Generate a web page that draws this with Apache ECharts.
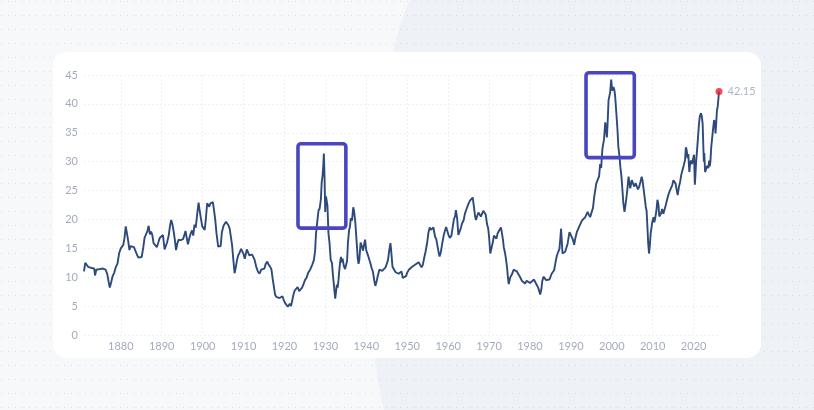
<!DOCTYPE html>
<html><head><meta charset="utf-8">
<script src="https://cdn.jsdelivr.net/npm/echarts@6/dist/echarts.min.js"></script>
<style>
html,body{margin:0;padding:0;background:#f7f8fa;}
#wrap{position:relative;width:814px;height:410px;overflow:hidden;background:#f7f8fa;}
#bgsvg{position:absolute;left:0;top:0;}
#card{position:absolute;left:53px;top:52px;width:708px;height:306px;background:#ffffff;border-radius:14px;}
#chart{position:absolute;left:0;top:0;width:814px;height:410px;}
</style></head>
<body><div id="wrap">
<svg id="bgsvg" width="814" height="410">
 <defs><pattern id="dots" width="7" height="14" patternUnits="userSpaceOnUse"><circle cx="1.5" cy="1.5" r="0.6" fill="#b9c2d2"/></pattern></defs>
 <path d="M410 0 C 376 70, 354 290, 384 410 L 814 410 L 814 0 Z" fill="#eef1f6"/>
 <rect width="814" height="410" fill="url(#dots)" opacity="0.55"/>
</svg>
<div id="card"></div>
<div id="chart"></div>
</div>
<script>
// ---- data (Shiller CAPE) ----
const years = [
1871.0,1871.3,1871.6,1872.0,1872.4,1872.8,1873.2,1873.5,1873.7,1874.0,1874.4,1874.8,1875.2,1875.6,1876.0,1876.3,1876.7,1877.0,1877.3,1877.6,
1878.0,1878.4,1878.8,1879.2,1879.6,1880.0,1880.3,1880.6,1880.9,1881.2,1881.5,1881.8,1882.1,1882.4,1882.8,1883.2,1883.6,1884.0,1884.3,1884.7,
1885.1,1885.5,1885.8,1886.1,1886.5,1886.8,1887.1,1887.4,1887.7,1888.0,1888.3,1888.8,1889.2,1889.5,1889.9,1890.3,1890.7,1891.0,1891.3,1891.7,
1892.0,1892.3,1892.6,1892.9,1893.2,1893.5,1893.8,1894.1,1894.6,1895.2,1895.5,1895.8,1896.1,1896.4,1896.7,1897.0,1897.4,1897.7,1898.0,1898.3,
1898.6,1899.0,1899.2,1899.5,1899.9,1900.2,1900.5,1900.8,1901.1,1901.3,1901.6,1901.9,1902.2,1902.5,1902.8,1903.1,1903.4,1903.8,1904.1,1904.4,
1904.7,1905.1,1905.4,1905.7,1906.0,1906.3,1906.6,1906.9,1907.2,1907.5,1907.8,1908.1,1908.4,1908.7,1909.0,1909.4,1909.7,1910.0,1910.3,1910.6,
1910.8,1911.1,1911.4,1911.7,1912.1,1912.4,1912.7,1913.1,1913.5,1913.9,1914.3,1914.7,1915.1,1915.4,1915.8,1916.1,1916.5,1916.8,1917.1,1917.4,
1917.7,1918.0,1918.4,1918.8,1919.2,1919.5,1919.8,1920.1,1920.4,1920.8,1921.0,1921.3,1921.6,1921.9,1922.2,1922.5,1922.8,1923.2,1923.6,1923.9,
1924.3,1924.6,1925.0,1925.4,1925.8,1926.2,1926.5,1926.8,1927.2,1927.5,1927.7,1928.0,1928.3,1928.6,1928.9,1929.1,1929.3,1929.5,1929.62,1929.8,
1929.95,1930.15,1930.3,1930.5,1930.75,1931.0,1931.3,1931.6,1931.8,1932.1,1932.4,1932.6,1932.8,1933.0,1933.2,1933.4,1933.6,1933.8,1934.0,1934.2,
1934.5,1934.8,1935.0,1935.3,1935.5,1935.8,1936.0,1936.2,1936.5,1936.8,1937.0,1937.3,1937.6,1937.9,1938.1,1938.3,1938.6,1938.9,1939.2,1939.5,
1939.7,1940.0,1940.3,1940.5,1941.0,1941.3,1941.6,1942.0,1942.2,1942.5,1942.8,1943.2,1943.6,1943.9,1944.3,1944.7,1945.0,1945.3,1945.6,1945.9,
1946.1,1946.4,1946.8,1947.1,1947.5,1947.9,1948.3,1948.6,1948.9,1949.3,1949.7,1950.0,1950.4,1950.8,1951.2,1951.6,1952.0,1952.4,1952.8,1953.1,
1953.5,1953.8,1954.1,1954.5,1954.9,1955.2,1955.5,1955.8,1956.1,1956.4,1956.8,1957.1,1957.4,1957.7,1957.9,1958.2,1958.5,1958.9,1959.2,1959.5,
1959.8,1960.1,1960.4,1960.8,1961.1,1961.4,1961.7,1961.9,1962.2,1962.5,1962.8,1963.1,1963.4,1963.8,1964.1,1964.5,1964.9,1965.3,1965.6,1966.0,
1966.3,1966.6,1966.8,1967.1,1967.4,1967.8,1968.0,1968.3,1968.6,1968.9,1969.2,1969.5,1969.8,1970.0,1970.3,1970.6,1970.9,1971.2,1971.5,1971.8,
1972.1,1972.4,1972.7,1972.9,1973.1,1973.4,1973.6,1973.9,1974.1,1974.4,1974.6,1974.8,1975.2,1975.6,1976.0,1976.4,1976.8,1977.2,1977.6,1978.0,
1978.4,1978.8,1979.2,1979.6,1980.0,1980.45,1981.0,1981.4,1981.7,1982.0,1982.5,1982.8,1983.0,1983.3,1983.6,1983.95,1984.4,1984.75,1985.3,1985.9,
1986.3,1986.6,1986.9,1987.2,1987.45,1987.6,1987.8,1987.95,1988.3,1988.6,1989.2,1989.65,1990.0,1990.2,1990.5,1990.8,1991.1,1991.45,1992.0,1992.7,
1993.1,1993.5,1994.1,1994.4,1994.7,1995.1,1995.4,1995.7,1996.2,1996.6,1996.9,1997.15,1997.4,1997.7,1998.1,1998.4,1998.6,1998.8,1999.0,1999.2,
1999.6,1999.84,2000.1,2000.4,2000.6,2000.8,2001.1,2001.4,2001.6,2001.9,2002.1,2002.35,2002.6,2002.8,2003.1,2003.4,2003.7,2004.1,2004.5,2004.9,
2005.2,2005.5,2005.8,2006.1,2006.4,2006.7,2007.0,2007.3,2007.5,2007.7,2008.0,2008.3,2008.5,2008.7,2008.9,2009.1,2009.3,2009.5,2009.9,2010.2,
2010.4,2010.6,2010.9,2011.15,2011.4,2011.6,2012.0,2012.3,2012.6,2013.2,2013.5,2013.8,2014.1,2014.5,2014.8,2015.05,2015.35,2015.6,2015.8,2016.1,
2016.4,2016.7,2017.0,2017.3,2017.6,2017.9,2018.1,2018.3,2018.5,2018.7,2018.95,2019.1,2019.35,2019.6,2019.9,2020.1,2020.3,2020.45,2020.6,2020.8,
2021.0,2021.3,2021.5,2021.8,2022.0,2022.2,2022.4,2022.5,2022.6,2022.8,2023.0,2023.3,2023.6,2023.8,2023.95,2024.1,2024.3,2024.6,2024.8,2025.0,
2025.2,2025.35,2025.5,2025.7,2025.9,2026.05,2026.2
];
const cape = [
11.0,12.5,12.2,11.8,12.1,11.6,11.9,11.5,10.3,11.3,11.2,11.4,11.3,11.5,11.8,11.3,10.5,9.3,8.2,9.0,
10.2,10.8,11.8,12.4,14.2,15.0,14.9,15.6,16.8,18.8,17.6,16.3,14.7,15.4,15.1,15.2,14.9,13.8,13.4,13.2,
13.5,15.2,16.8,17.0,18.0,18.9,17.4,17.9,17.3,15.9,15.6,15.2,16.1,16.8,17.0,17.3,14.8,15.4,16.0,17.2,
18.8,19.9,19.2,18.0,16.5,14.7,15.8,16.5,16.4,16.6,17.2,18.0,16.9,15.7,16.6,17.4,18.1,17.2,19.1,18.6,
20.5,22.9,21.9,20.5,18.8,18.5,18.2,20.2,22.8,23.0,22.2,22.8,22.5,23.0,21.5,19.8,17.5,15.3,15.0,15.4,
17.8,18.9,19.2,19.6,19.8,19.0,18.4,17.0,15.5,13.0,10.7,11.7,13.0,13.8,14.2,14.9,15.1,14.0,13.2,14.2,
14.8,14.5,13.8,14.0,13.9,13.7,13.0,11.8,11.0,10.6,11.3,11.0,11.5,12.3,12.7,12.2,11.8,11.4,9.8,8.4,
7.0,6.6,6.5,6.4,6.3,6.7,6.1,5.6,5.3,4.9,5.2,5.4,5.0,6.0,7.0,7.7,8.0,8.3,7.6,7.8,
8.2,8.7,9.5,9.9,10.8,11.2,11.0,12.2,13.0,14.7,17.5,19.5,21.5,21.9,23.5,26.5,27.5,29.5,31.4,27.0,
21.3,24.0,24.2,22.4,17.6,16.0,13.0,12.5,10.7,8.5,6.3,7.5,8.7,8.2,9.5,11.2,12.6,13.5,12.6,13.2,
12.0,11.4,11.2,12.8,15.9,18.2,18.7,20.2,19.8,22.1,21.5,19.6,16.5,13.3,12.3,13.0,16.0,15.4,14.6,15.8,
16.5,14.6,14.8,13.6,12.4,11.6,11.0,9.2,8.5,9.2,10.2,11.3,11.0,11.1,11.3,11.7,12.3,13.0,14.6,15.9,
14.4,11.8,11.3,10.9,11.2,10.6,10.7,11.0,9.9,9.7,10.2,10.8,11.3,11.6,11.8,12.0,12.2,12.4,12.6,12.3,
11.7,12.1,13.2,14.5,16.1,17.8,18.6,18.2,18.4,18.6,17.0,16.6,16.5,14.2,13.6,14.3,15.6,17.2,18.0,18.7,
18.0,17.3,16.8,17.2,18.6,20.0,20.6,21.6,20.2,17.3,17.0,18.5,19.3,19.9,21.0,21.8,22.6,23.2,23.0,23.8,
22.2,20.5,19.9,20.6,21.2,21.5,20.5,21.0,21.5,21.8,20.8,19.2,18.4,17.0,14.1,14.4,16.0,17.2,17.3,16.7,
17.6,18.0,18.1,18.6,17.8,16.5,15.2,14.2,13.3,11.7,10.0,8.8,10.0,10.5,11.3,11.6,11.0,10.7,10.0,9.4,
9.1,8.9,9.4,9.2,9.0,8.9,9.6,9.0,8.6,8.2,7.0,8.0,9.3,10.1,10.0,9.5,9.3,9.6,10.6,11.2,
12.8,13.8,14.0,14.9,17.0,18.4,16.0,14.1,14.0,14.4,15.8,17.8,17.3,17.0,16.5,15.6,16.8,17.8,18.7,19.8,
20.1,20.4,21.3,20.8,20.4,20.4,22.0,23.9,26.2,25.9,27.5,29.6,28.9,32.2,33.9,36.8,35.8,34.2,37.0,40.6,
42.0,44.2,42.3,42.9,42.5,41.5,38.5,35.4,32.6,30.8,29.0,27.5,25.1,23.0,21.3,22.8,24.5,27.4,25.4,26.8,
26.2,25.7,26.3,26.0,25.2,25.7,26.5,27.4,26.8,25.7,24.0,22.2,21.5,18.8,15.8,14.1,15.5,17.6,19.6,20.4,
19.5,20.2,21.5,23.4,22.6,20.5,21.0,21.8,21.0,22.5,23.4,24.2,24.8,25.1,26.0,26.8,27.0,26.2,25.3,24.2,
25.6,26.5,27.8,28.6,29.4,30.3,32.5,32.0,30.6,31.3,28.2,29.4,30.2,29.6,30.6,31.2,26.0,27.8,30.0,31.7,
33.5,36.5,37.8,38.4,37.8,36.6,32.0,30.0,31.5,28.2,28.6,29.3,28.9,30.2,29.2,30.0,32.5,34.6,36.0,37.2,
36.6,34.9,36.5,38.9,39.6,39.8,42.15
];
const xTickValues = [1880,1890,1900,1910,1920,1930,1940,1950,1960,1970,1980,1990,2000,2010,2020];
const yMin = 0, yMax = 45, yStep = 5;
const xMin = 1871, xMax = 2026.2;
// highlight boxes: [x0, y0, x1, y1] in data units
const highlightBoxes = [
  [1923.3, 18.5, 1935.0, 33.1],
  [1993.7, 30.7, 2005.5, 45.4]
];

const seriesData = years.map((y, i) => [y, cape[i]]);
const lastPoint = seriesData[seriesData.length - 1];

const labelStyle = { color: '#a3abbb', fontSize: 11, fontFamily: 'Lato, "Noto Sans", sans-serif' };
const gridLineStyle = { color: '#edf0f5', width: 1, type: [2, 2] };

const chart = echarts.init(document.getElementById('chart'), null, { renderer: 'canvas' });
chart.setOption({
  animation: false,
  backgroundColor: 'transparent',
  grid: { left: 84, right: 95, top: 75, bottom: 75 },
  xAxis: {
    type: 'value', min: xMin, max: xMax,
    axisLine: { show: false },
    axisTick: { show: false, customValues: xTickValues },
    axisLabel: Object.assign({ customValues: xTickValues, margin: 6, formatter: v => String(v) }, labelStyle),
    splitLine: { show: true, lineStyle: gridLineStyle }
  },
  yAxis: {
    type: 'value', min: yMin, max: yMax, interval: yStep,
    axisLine: { show: false }, axisTick: { show: false },
    axisLabel: Object.assign({ margin: 6 }, labelStyle),
    splitLine: { show: true, lineStyle: gridLineStyle }
  },
  series: [
    {
      type: 'line', data: seriesData, showSymbol: false, symbol: 'none', silent: true,
      lineStyle: { color: '#2e4a7a', width: 1.9 }, z: 3
    },
    {
      type: 'scatter', data: [lastPoint], symbolSize: 7, silent: true, z: 5,
      itemStyle: { color: '#e3202f' },
      label: {
        show: true, position: 'right', distance: 5,
        formatter: p => p.value[1].toFixed(2),
        color: '#9aa3b5', fontSize: 11, fontFamily: 'Lato, "Noto Sans", sans-serif'
      }
    }
  ]
});

const rects = highlightBoxes.map(b => {
  const p1 = chart.convertToPixel({ gridIndex: 0 }, [b[0], b[3]]);
  const p2 = chart.convertToPixel({ gridIndex: 0 }, [b[2], b[1]]);
  return {
    type: 'rect', z: 100, silent: true,
    shape: { x: p1[0], y: p1[1], width: p2[0] - p1[0], height: p2[1] - p1[1], r: 3 },
    style: { fill: null, stroke: '#4a46c0', lineWidth: 3.6 }
  };
});
chart.setOption({ graphic: rects });
</script>
</body></html>
